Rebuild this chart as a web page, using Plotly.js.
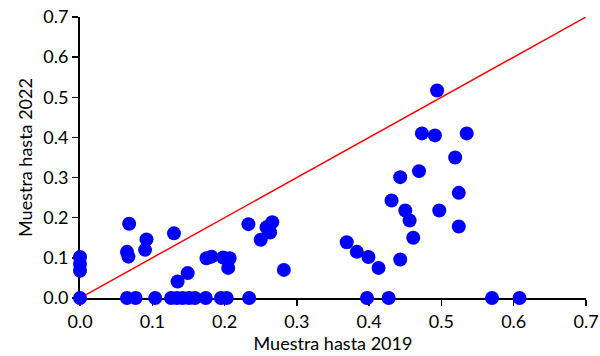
<!DOCTYPE html>
<html><head><meta charset="utf-8">
<script src="https://cdn.plot.ly/plotly-3.0.1.min.js"></script>
<style>html,body{margin:0;padding:0;background:#fff}#chart{width:600px;height:356px}</style>
</head><body><div id="chart"></div>
<script>
const muestra2019 = [0, 0, 0,
  0.068, 0.065, 0.067, 0.092, 0.090, 0.130, 0.135, 0.149,
  0.175, 0.182, 0.198, 0.207, 0.205,
  0.233, 0.250, 0.258, 0.266, 0.263, 0.282,
  0.369, 0.383, 0.399, 0.413,
  0.443, 0.431, 0.443, 0.469, 0.450, 0.456, 0.461, 0.497,
  0.494, 0.473, 0.491, 0.535, 0.519, 0.524, 0.524,
  0, 0.065, 0.077, 0.104, 0.126, 0.134, 0.142, 0.151, 0.159, 0.174, 0.195, 0.203, 0.234, 0.397, 0.427, 0.570, 0.608];
const muestra2022 = [0.102, 0.085, 0.068,
  0.185, 0.115, 0.103, 0.146, 0.120, 0.161, 0.041, 0.062,
  0.099, 0.103, 0.101, 0.099, 0.075,
  0.184, 0.145, 0.176, 0.189, 0.163, 0.070,
  0.139, 0.115, 0.102, 0.075,
  0.096, 0.243, 0.301, 0.316, 0.218, 0.193, 0.150, 0.218,
  0.517, 0.410, 0.405, 0.410, 0.350, 0.262, 0.178,
  0, 0, 0, 0, 0, 0, 0, 0, 0, 0, 0, 0, 0, 0, 0, 0, 0];
const lineaX = [0, 0.7];
const lineaY = [0, 0.7];
const tickVals = [0, 0.1, 0.2, 0.3, 0.4, 0.5, 0.6, 0.7];
const tickText = ['0.0', '0.1', '0.2', '0.3', '0.4', '0.5', '0.6', '0.7'];

const font = {family: 'Lato, "Open Sans", sans-serif', size: 18, color: '#000'};
const data = [
  {x: lineaX, y: lineaY, mode: 'lines', type: 'scatter', line: {color: '#ff0000', width: 1.5}, hoverinfo: 'skip', cliponaxis: false},
  {x: muestra2019, y: muestra2022, mode: 'markers', type: 'scatter', marker: {color: '#0000ff', size: 14}, cliponaxis: false}
];
const layout = {
  width: 600, height: 356,
  margin: {l: 80, r: 14, t: 17, b: 58},
  paper_bgcolor: '#fff', plot_bgcolor: '#fff',
  showlegend: false,
  font: font,
  xaxis: {range: [0, 0.7], tickvals: tickVals, ticktext: tickText, showgrid: false, zeroline: false,
    showline: true, linecolor: '#000', linewidth: 2, ticks: 'outside', ticklen: 6, tickwidth: 1.5, tickcolor: '#000',
    layer: 'below traces', tickfont: font,
    title: {text: 'Muestra hasta 2019', font: font, standoff: 1}},
  yaxis: {range: [0, 0.7], tickvals: tickVals, ticktext: tickText, showgrid: false, zeroline: false,
    showline: true, linecolor: '#000', linewidth: 2, ticks: 'outside', ticklen: 6, tickwidth: 1.5, tickcolor: '#000',
    layer: 'below traces', tickfont: font,
    title: {text: 'Muestra hasta 2022', font: font, standoff: 6}}
};
Plotly.newPlot('chart', data, layout, {staticPlot: true, displayModeBar: false});
</script></body></html>
